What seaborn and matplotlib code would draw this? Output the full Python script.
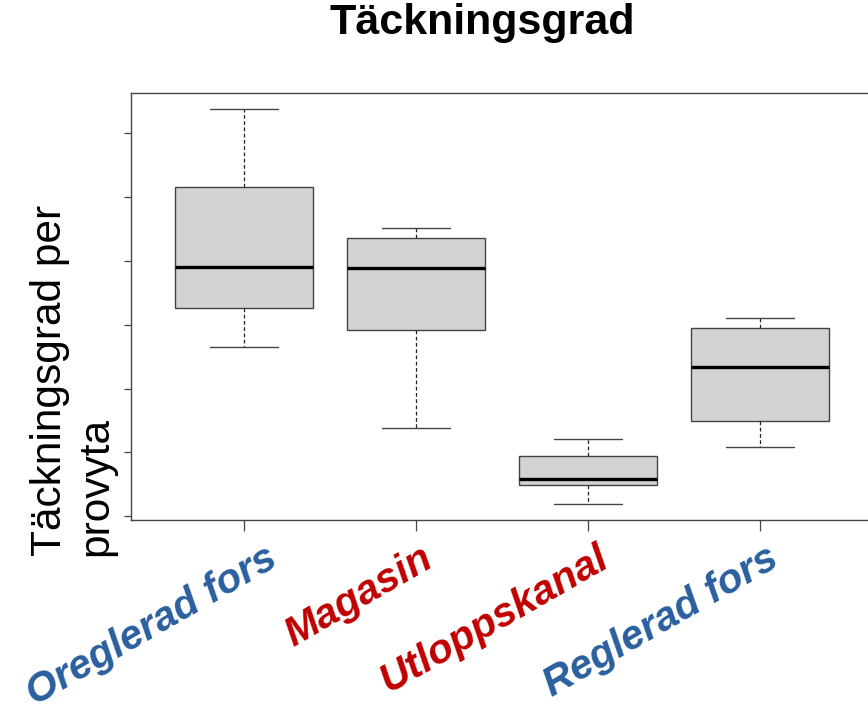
import numpy as np
import pandas as pd
import matplotlib
matplotlib.use("Agg")
import matplotlib.pyplot as plt
import matplotlib.transforms as mtransforms
import seaborn as sns

# Five-number summaries per site type: lower whisker, Q1, median, Q3, upper whisker
categories = ["Oreglerad fors", "Magasin", "Utloppskanal", "Reglerad fors"]
label_colors = ["#2A5F9E", "#C00000", "#C00000", "#2A5F9E"]
oreglerad = [26.5, 32.6, 39.0, 51.6, 63.8]
magasin = [13.8, 29.2, 38.9, 43.6, 45.1]
utloppskanal = [1.9, 4.9, 5.8, 9.4, 12.1]
reglerad = [10.8, 14.9, 23.4, 29.5, 31.0]
y_ticks = [0, 10, 20, 30, 40, 50, 60]

df = pd.DataFrame({
    "typ": np.repeat(categories, 5),
    "grad": oreglerad + magasin + utloppskanal + reglerad,
})

sns.set_theme(style="white")
plt.rcParams["font.family"] = ["Liberation Sans", "DejaVu Sans"]

fig = plt.figure(figsize=(8.68, 7.15), dpi=100)
ax = fig.add_axes([131 / 868, 1 - 520 / 715, (873 - 131) / 868, (520 - 93) / 715])

edge = "#444444"
sns.boxplot(
    data=df, x="typ", y="grad", order=categories, ax=ax,
    width=0.8, whis=np.inf, color="#D3D3D3", saturation=1,
    boxprops=dict(facecolor="#D3D3D3", edgecolor=edge, linewidth=1.0),
    whiskerprops=dict(color="#222222", linestyle=(0, (3, 2)), linewidth=0.9),
    capprops=dict(color=edge, linewidth=1.0),
    medianprops=dict(color="black", linewidth=2.4),
    showfliers=False,
)

ax.set_xlim(-0.657, 3.657)
ax.set_ylim(-0.6, 66.3)
ax.set_yticks(y_ticks)
ax.set_yticklabels([])
ax.set_xticks(range(len(categories)))
ax.set_xticklabels([])
ax.tick_params(axis="y", left=True, length=5, width=0.9, color=edge, direction="out")
ax.tick_params(axis="x", bottom=True, length=8, width=0.9, color=edge, direction="out")
for s in ax.spines.values():
    s.set_color(edge)
    s.set_linewidth(1.0)
ax.set_xlabel("")
ax.set_ylabel("")

# rotated category labels (small horizontal nudges in pixels)
nudge_px = [20, 4, 8, 6]
for i, (lab, col) in enumerate(zip(categories, label_colors)):
    tr = ax.get_xaxis_transform() + mtransforms.ScaledTranslation(
        nudge_px[i] / 100, -19 / 100, fig.dpi_scale_trans)
    ax.text(i, 0, lab, transform=tr, rotation=30, rotation_mode="anchor",
            ha="right", va="top", fontsize=29.5, fontweight="bold", fontstyle="italic",
            color=col)

fig.text(482 / 868, 1 - 23 / 715, "Täckningsgrad", ha="center", va="center",
         fontsize=31, fontweight="bold", color="black")
fig.text(73 / 868, 1 - 380 / 715, "Täckningsgrad per\nprovyta", rotation=90,
         ha="center", va="center", multialignment="left",
         fontsize=30.5, linespacing=1.2, color="black")

fig.savefig("out.png", dpi=100)
